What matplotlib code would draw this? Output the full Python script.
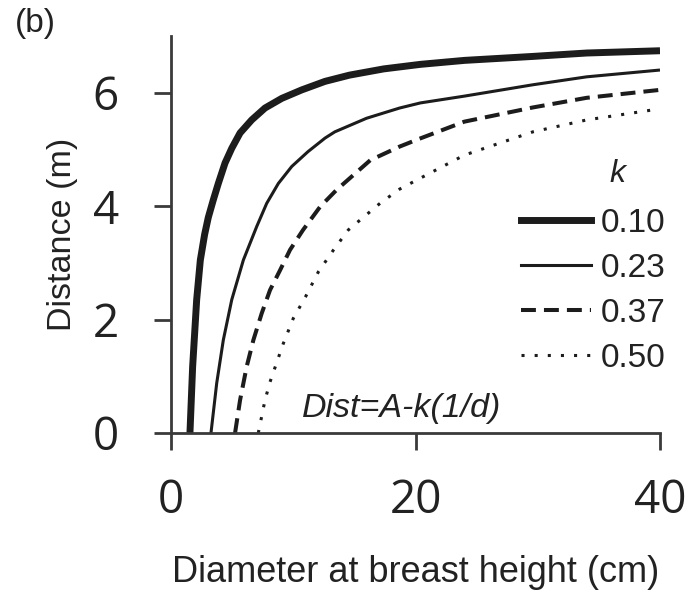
import numpy as np
import matplotlib
matplotlib.use("Agg")
import matplotlib.pyplot as plt
from matplotlib.lines import Line2D

# values (dbh in cm, distance in m)
dbh_k010 = [1.55, 1.77, 2.1, 2.4, 2.75, 3.05, 3.46, 3.87, 4.42, 4.97, 5.65, 6.6, 7.69, 9.06,
            10.7, 12.6, 14.6, 17.4, 20.4, 24, 29.6, 34, 40]
dist_k010 = [0, 1.17, 2.35, 3.05, 3.5, 3.8, 4.11, 4.40, 4.76, 5.02, 5.29, 5.52, 5.73, 5.90,
             6.05, 6.20, 6.31, 6.42, 6.50, 6.57, 6.64, 6.70, 6.74]

dbh_k023 = [3.27, 3.74, 4.28, 4.97, 5.92, 7.01, 7.83, 8.78, 9.88, 11.2, 12.6, 13.4, 16.0,
            18.7, 20.4, 24, 29.6, 34, 40]
dist_k023 = [0, 0.88, 1.64, 2.35, 3.05, 3.64, 4.05, 4.40, 4.70, 4.96, 5.20, 5.31, 5.55,
             5.73, 5.82, 5.94, 6.14, 6.28, 6.40]

dbh_k037 = [5.24, 5.65, 6.19, 6.74, 7.42, 8.10, 8.92, 9.74, 10.8, 12.2, 13.56, 16.3, 18.7,
            20.1, 24, 29.6, 34, 40]
dist_k037 = [0, 0.58, 1.17, 1.64, 2.11, 2.52, 2.87, 3.23, 3.58, 3.99, 4.29, 4.81, 5.05,
             5.17, 5.49, 5.74, 5.91, 6.05]

dbh_k050 = [7.14, 7.69, 8.10, 9.19, 10.0, 11.0, 12.05, 13.3, 14.5, 17.1, 18.7, 20.1, 24,
            29.6, 34, 39.5]
dist_k050 = [0, 0.58, 0.90, 1.58, 2.02, 2.40, 2.84, 3.23, 3.58, 4.05, 4.30, 4.46, 4.90,
             5.31, 5.52, 5.70]

k_labels = ["0.10", "0.23", "0.37", "0.50"]

ink = "#1c1c1c"
axis_col = "#3a3a3a"
txt_col = "#222222"
label_font = "Liberation Sans"
tick_font = "Open Sans"

fig = plt.figure(figsize=(6.91, 5.96), dpi=100)
ax = fig.add_axes([171 / 691, 163 / 596, 489 / 691, 397 / 596])

styles = [
    dict(lw=5.0, ls="-"),
    dict(lw=2.2, ls="-"),
    dict(lw=2.9, ls=(0, (3.7, 2.0))),
    dict(lw=2.2, ls=(0, (1.0, 3.3))),
]
series = [(dbh_k010, dist_k010), (dbh_k023, dist_k023), (dbh_k037, dist_k037), (dbh_k050, dist_k050)]

handles = []
for (x, y), st in zip(series, styles):
    ax.plot(x, y, color=ink, lw=st["lw"], ls=st["ls"], solid_capstyle="butt",
            dash_capstyle="butt", solid_joinstyle="round")
    handles.append(Line2D([], [], color=ink, lw=st["lw"], ls=st["ls"], dash_capstyle="butt"))

ax.set_xlim(0, 40)
ax.set_ylim(0, 7)
ax.set_xticks([0, 20, 40])
ax.set_yticks([0, 2, 4, 6])

for s in ["top", "right"]:
    ax.spines[s].set_visible(False)
for s in ["left", "bottom"]:
    ax.spines[s].set_linewidth(2)
    ax.spines[s].set_color(axis_col)

ax.tick_params(axis="both", length=12.5, width=2, color=axis_col, labelsize=33, labelcolor=txt_col)
ax.tick_params(axis="x", pad=20)
ax.tick_params(axis="y", pad=25)
for t in ax.get_xticklabels() + ax.get_yticklabels():
    t.set_fontfamily(tick_font)

ax.set_xlabel("Diameter at breast height (cm)", fontsize=26, family=label_font, color=txt_col)
ax.set_ylabel("Distance (m)", fontsize=24.5, family=label_font, color=txt_col)
ax.xaxis.set_label_coords(0.5, -0.307)
ax.yaxis.set_label_coords(-0.19, 0.5)

leg = ax.legend(handles, k_labels, loc="center right", bbox_to_anchor=(1.012, 0.358),
                frameon=False, handlelength=2.1, handletextpad=0.3, labelspacing=0.42,
                borderaxespad=0, borderpad=0, prop={"family": label_font, "size": 24})
for t in leg.get_texts():
    t.set_color(txt_col)

ax.text(36.5, 4.43, "k", fontsize=23, family=label_font, style="italic", color=txt_col,
        ha="center", va="baseline")
ax.text(10.7, 0.28, "Dist=A-k(1/d)", fontsize=24.5, family=label_font, style="italic", color=txt_col,
        ha="left", va="baseline")

fig.text(15 / 691, 1 - 8 / 596, "(b)", fontsize=24, family=label_font, color=txt_col, ha="left", va="top")

fig.savefig("out.png", dpi=100)
